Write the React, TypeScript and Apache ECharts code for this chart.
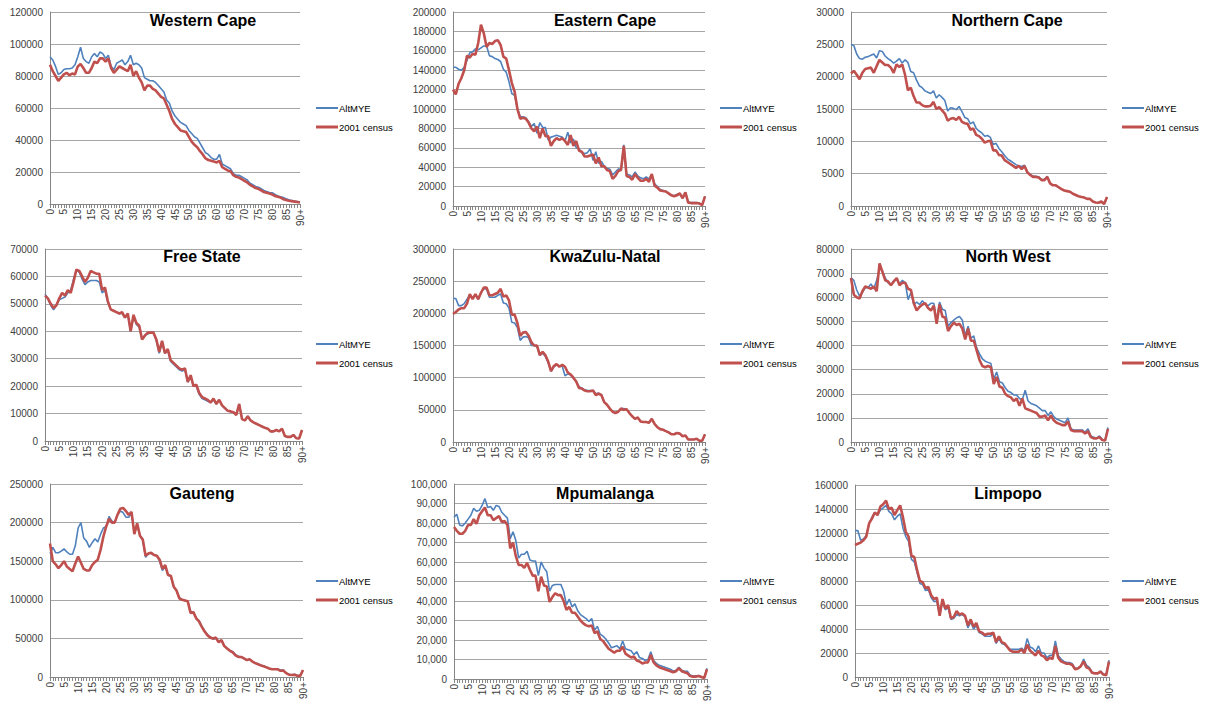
import { useEffect, useRef } from "react";
import * as echarts from "echarts";

// Single-year age groups 0..89 and the open-ended 90+ group
const ages: string[] = [...Array.from({ length: 90 }, (_, i) => String(i)), "90+"];

const seriesNames = ["AltMYE", "2001 census"];

const westernCapeAlt = [
  92000, 90000, 86000, 81000, 82000, 84000, 84500, 84500, 85000, 87000,
  92000, 98000, 91000, 89000, 88000, 92000, 94000, 92000, 95000, 94000,
  91000, 93000, 86000, 84000, 88000, 89000, 90000, 87000, 89000, 93000,
  87000, 88000, 87000, 85000, 79000, 78000, 77000, 77000, 76000, 74000,
  72000, 70000, 65000, 63000, 58000, 55000, 53000, 51000, 50000, 49000,
  46000, 44000, 42000, 41000, 38000, 35000, 32000, 31000, 29000, 28000,
  28000, 31000, 25000, 24000, 23000, 22000, 19000, 18000, 18000, 17000,
  16000, 15000, 13000, 12000, 11000, 10500, 9500, 8500, 7800, 7200,
  7000, 6000, 5000, 4500, 4000, 3200, 2600, 2200, 1800, 1500,
  1200,
];
const westernCapeCensus = [
  87000, 83000, 80000, 77000, 79000, 81000, 82000, 80500, 81500, 81000,
  86000, 87500, 85000, 82000, 82000, 85000, 89000, 88000, 91000, 91000,
  89000, 91000, 85000, 82000, 84000, 86000, 85000, 84000, 83000, 87000,
  80000, 83000, 79000, 76000, 71000, 74000, 74000, 72000, 71000, 69000,
  67000, 66000, 62000, 58000, 53000, 50000, 48000, 46000, 45500, 45000,
  42000, 39000, 37000, 35500, 33000, 31000, 28500, 27500, 27000, 26500,
  26000, 27000, 23000, 22000, 21000, 20500, 18000, 17000, 16500, 15500,
  14500, 13500, 12000, 11000, 10000, 9500, 8500, 7500, 7000, 6500,
  6000, 5000, 4500, 4000, 3000, 2500, 2000, 1800, 1500, 1200,
  900,
];

const easternCapeAlt = [
  143000, 143000, 141000, 140000, 143000, 150000, 158000, 159000, 162000, 161000,
  163000, 165000, 165000, 155000, 154000, 152000, 151000, 149000, 141000, 138000,
  128000, 116000, 114000, 101000, 92000, 92000, 91000, 87000, 82000, 85000,
  75000, 86000, 81000, 81000, 68000, 71000, 72000, 73000, 72000, 71000,
  67000, 76000, 65000, 69000, 60000, 59000, 55000, 54000, 55000, 59000,
  47000, 56000, 44000, 46000, 41000, 39000, 38000, 32000, 35000, 38000,
  38000, 63000, 33000, 32000, 30000, 35000, 31000, 29000, 28000, 30000,
  28000, 32000, 23000, 20000, 17000, 16000, 15000, 13000, 11000, 10500,
  12000, 13000, 8500, 14000, 4000, 3500, 3500, 3500, 3000, 1500,
  10000,
];
const easternCapeCensus = [
  120000, 115000, 126000, 132000, 140000, 155000, 153000, 157000, 156000, 168000,
  187000, 178000, 164000, 168000, 167000, 170000, 171000, 166000, 154000, 152000,
  140000, 127000, 118000, 100000, 90000, 91000, 90000, 86000, 80000, 77000,
  82000, 70000, 80000, 72000, 72000, 62000, 67000, 70000, 68000, 70000,
  67000, 63000, 73000, 62000, 67000, 57000, 56000, 51000, 51000, 52000,
  53000, 44000, 50000, 41000, 41000, 37000, 36000, 28000, 31000, 36000,
  37000, 62000, 31000, 30000, 27000, 33000, 29000, 26000, 26000, 28000,
  25000, 33000, 21000, 19000, 16000, 15500, 15000, 13000, 11000, 10000,
  11000, 13000, 8000, 14000, 3500, 3000, 3000, 3000, 2500, 1000,
  10000,
];

const northernCapeAlt = [
  25000, 24800, 23500, 22800, 22700, 23000, 23100, 23300, 23500, 22900,
  24000, 23900, 23200, 22800, 22500, 22100, 22400, 22800, 22100, 22600,
  22200, 20800, 20600, 19500, 18600, 18300, 17800, 17600, 17400, 17800,
  16700, 17200, 16800, 16300, 14700, 15200, 15100, 14900, 15400, 14600,
  13700, 13500, 12700, 13000, 12000, 11600, 11300, 10800, 10900, 10600,
  9500, 9700, 8900, 8400, 7800, 7300, 7000, 6700, 6400, 6200,
  6100, 6300, 5300, 4900, 4600, 4600, 4500, 4100, 4100, 4600,
  3500, 3200, 3200, 2900, 2600, 2400, 2300, 2200, 1900, 1700,
  1500, 1400, 1300, 1100, 1100, 700, 550, 500, 700, 300,
  1400,
];
const northernCapeCensus = [
  20500, 20900, 20300, 19600, 20600, 21200, 21300, 21400, 20600, 21600,
  22600, 22200, 21800, 21800, 21400, 20600, 21900, 21500, 21900, 20300,
  17900, 18300, 17000, 16000, 16000, 15600, 15400, 15400, 15500, 16100,
  15000, 15300, 14800, 14300, 13200, 13500, 13600, 13300, 13800, 13000,
  12800, 12700, 11800, 12000, 11000, 10800, 10400, 9800, 10000, 10100,
  8600, 8600, 7900, 7800, 7100, 6800, 6500, 6200, 5900, 6200,
  5700, 6200, 5200, 4800, 4500, 4500, 4400, 4000, 4000, 4500,
  3500, 3200, 3200, 2900, 2600, 2400, 2300, 2200, 1900, 1700,
  1500, 1400, 1300, 1100, 1100, 700, 550, 500, 700, 300,
  1400,
];

const freeStateAlt = [
  53500, 52000, 49500, 47800, 49500, 51500, 52000, 52500, 54000, 55000,
  59000, 62500, 61500, 59000, 57000, 58000, 58500, 58500, 58500, 58000,
  54000, 55000, 50500, 48000, 47500, 47000, 46500, 46500, 45000, 46000,
  40000, 45500, 42500, 41500, 37000, 38500, 39000, 39500, 39500, 36500,
  32000, 36000, 32000, 33000, 29000, 28000, 27000, 26000, 25500, 26000,
  21500, 23500, 20000, 20000, 17000, 15500, 15000, 14500, 14000, 15000,
  13500, 15000, 13000, 12000, 11000, 10800, 10500, 9500, 13500, 8000,
  7500, 9000, 7500, 6800, 6300, 5800, 5300, 4800, 4500, 3500,
  3500, 4000, 3500, 4500, 1800, 1500, 1500, 2200, 1000, 900,
  4000,
];
const freeStateCensus = [
  53000, 52000, 50000, 48500, 49500, 52000, 54000, 53000, 55000, 54000,
  58000, 62500, 62000, 60000, 58000, 59500, 62000, 61500, 61000, 61000,
  55000, 56000, 51000, 48000, 47500, 47000, 46500, 47000, 45000, 46500,
  40000, 46000, 43000, 42000, 37000, 38500, 39500, 39500, 39500, 37000,
  32500, 36500, 32000, 33500, 29500, 28500, 27500, 26500, 26000, 26500,
  21500, 24000, 20000, 20500, 17500, 16000, 15500, 15000, 14000, 15500,
  13500, 15000, 13000, 12000, 11000, 10800, 10500, 9500, 13500, 8000,
  7500, 9000, 7500, 6800, 6300, 5800, 5300, 4800, 4500, 3500,
  3500, 4000, 3500, 4500, 1800, 1500, 1500, 2200, 1000, 900,
  4000,
];

const kwaZuluNatalAlt = [
  223000, 223000, 212000, 212000, 215000, 222000, 228000, 224000, 228000, 222000,
  232000, 238000, 238000, 225000, 225000, 225000, 228000, 230000, 216000, 215000,
  208000, 186000, 185000, 178000, 158000, 163000, 164000, 162000, 150000, 150000,
  148000, 135000, 138000, 133000, 123000, 110000, 117000, 120000, 118000, 118000,
  103000, 106000, 104000, 99000, 94000, 86000, 84000, 81000, 80000, 80000,
  80000, 75000, 76000, 73000, 62000, 58000, 52000, 47000, 45000, 47000,
  52000, 52000, 51000, 45000, 40000, 36000, 38000, 32000, 31000, 31000,
  30000, 36000, 28000, 23000, 20000, 19000, 17000, 15000, 12000, 12000,
  14000, 13000, 9000, 10000, 4000, 4000, 4000, 5000, 2000, 2000,
  12000,
];
const kwaZuluNatalCensus = [
  199000, 202000, 206000, 208000, 208000, 215000, 230000, 222000, 230000, 222000,
  232000, 240000, 240000, 228000, 228000, 230000, 232000, 238000, 226000, 228000,
  220000, 198000, 198000, 185000, 165000, 170000, 171000, 165000, 155000, 150000,
  150000, 135000, 140000, 135000, 125000, 110000, 118000, 121000, 117000, 120000,
  117000, 108000, 105000, 100000, 94000, 84000, 83000, 80000, 79000, 79000,
  80000, 73000, 75000, 73000, 62000, 58000, 52000, 47000, 45000, 47000,
  52000, 50000, 51000, 45000, 40000, 36000, 38000, 32000, 31000, 31000,
  30000, 36000, 28000, 23000, 20000, 19000, 17000, 15000, 12000, 12000,
  14000, 13000, 9000, 10000, 4000, 4000, 4000, 5000, 2000, 2000,
  12000,
];

const northWestAlt = [
  68000, 67000, 63000, 60500, 62000, 64000, 64000, 65500, 63500, 67000,
  72000, 71000, 68000, 66000, 65000, 67000, 67500, 65500, 67000, 66000,
  59000, 62000, 57000, 58000, 57000, 58500, 57000, 56500, 57500, 57500,
  50000, 58000, 55000, 54500, 48000, 49500, 50500, 51500, 52000, 50500,
  44000, 48000, 43000, 44000, 39000, 36500, 34500, 33500, 33000, 32500,
  26000, 29000, 25000, 24500, 22500, 21000, 20500, 19500, 19500, 18000,
  17500, 21500, 17000, 16000, 15500, 15000, 14000, 13000, 13000, 11000,
  12500, 10500, 9500, 9000, 8500, 8000, 10000, 5500, 5000, 5000,
  5000, 5000, 4000, 5500, 2500, 2000, 1500, 2500, 1000, 900,
  6000,
];
const northWestCensus = [
  68000, 61000, 60000, 59500, 62500, 64500, 64000, 63500, 64500, 62500,
  74000, 70500, 67000, 66500, 65000, 66500, 68000, 65000, 66000, 66000,
  63500, 63000, 57500, 54500, 56000, 57000, 57500, 55500, 54500, 56500,
  49000, 57000, 52000, 51500, 46000, 48000, 49500, 48500, 49000, 47000,
  42500, 47000, 42000, 42000, 38000, 34000, 31500, 31000, 31500, 31000,
  24000, 27000, 23000, 22500, 20000, 19000, 18500, 17000, 18000, 15000,
  18000, 14000, 13500, 13000, 12500, 12000, 10500, 10500, 11000, 9000,
  11000, 9000, 8000, 7500, 7000, 7000, 8500, 5000, 4500, 4500,
  4500, 4500, 3500, 4500, 2000, 1500, 1500, 2000, 800, 600,
  5500,
];

const gautengAlt = [
  160000, 168000, 161000, 161000, 163000, 166000, 162000, 159000, 159000, 170000,
  193000, 200000, 180000, 176000, 168000, 174000, 179000, 175000, 185000, 193000,
  195000, 208000, 202000, 200000, 210000, 215000, 213000, 207000, 207000, 212000,
  188000, 197000, 183000, 177000, 155000, 160000, 160000, 158000, 157000, 150000,
  138000, 143000, 132000, 130000, 117000, 112000, 103000, 100000, 99000, 98000,
  85000, 84000, 76000, 73000, 66000, 60000, 55000, 52000, 49000, 50000,
  46000, 47000, 40000, 37000, 34000, 33000, 29000, 27000, 26000, 24000,
  22000, 23000, 20000, 18000, 17000, 15500, 14000, 13000, 11000, 10500,
  10500, 10500, 9000, 9000, 5000, 3500, 3000, 3500, 2000, 2000,
  9000,
];
const gautengCensus = [
  173000, 150000, 146000, 141000, 145000, 150000, 143000, 140000, 137000, 147000,
  156000, 148000, 140000, 138000, 138000, 145000, 149000, 152000, 165000, 182000,
  195000, 205000, 200000, 200000, 210000, 218000, 219000, 215000, 210000, 214000,
  185000, 199000, 183000, 178000, 157000, 160000, 161000, 158000, 157000, 152000,
  140000, 145000, 132000, 131000, 117000, 112000, 102000, 100000, 99000, 98000,
  83000, 84000, 76000, 72000, 65000, 59000, 54000, 51000, 50000, 51000,
  45000, 48000, 40000, 37000, 34000, 32000, 28000, 26000, 26000, 24000,
  22000, 23000, 20000, 18000, 16500, 15000, 14000, 12500, 11000, 10000,
  10000, 10000, 8000, 8500, 5000, 3000, 2500, 3000, 1500, 1500,
  9000,
];

const mpumalangaAlt = [
  83000, 84500, 79000, 78500, 80000, 82000, 84000, 87500, 86000, 86500,
  89000, 92500, 88000, 88500, 86500, 89000, 88500, 85500, 84000, 82500,
  72000, 75500, 71000, 62000, 64000, 64000, 65500, 61000, 60500, 60500,
  53000, 60000, 57000, 55000, 45000, 48000, 48500, 48500, 48500, 45000,
  38000, 41000, 37000, 38500, 35000, 33000, 32000, 31000, 29500, 31000,
  25000, 27000, 23000, 22000, 20500, 18500, 16000, 16500, 17000, 15500,
  19500, 15500, 15000, 14500, 12500, 14000, 11000, 10500, 9500, 10000,
  14000, 9500, 8000, 7000, 6500, 6000, 5500, 5000, 4000, 4500,
  6000, 4500, 4000, 4000, 2000, 1500, 1500, 1800, 1200, 800,
  5500,
];
const mpumalangaCensus = [
  78000, 76000, 74500, 74500, 76000, 79000, 79000, 82000, 79500, 84000,
  86000, 88000, 84000, 84000, 81500, 82500, 83500, 80500, 81000, 79000,
  67000, 70000, 63000, 58500, 58500, 57000, 59500, 56000, 53000, 53000,
  45000, 52500, 48000, 47500, 39500, 42000, 44000, 43000, 43000, 40000,
  35500, 37000, 34000, 34000, 32000, 30000, 28500, 27500, 27000, 27500,
  23500, 24500, 20500, 19500, 17500, 15500, 14500, 13500, 14500, 14500,
  16500, 13000, 12000, 11000, 11500, 9500, 9000, 8000, 8500, 8500,
  12500, 8500, 7000, 6000, 5500, 5000, 4500, 4000, 3500, 4000,
  5500, 4000, 3500, 3000, 1500, 1200, 1200, 1500, 1000, 500,
  5000,
];

const limpopoAlt = [
  122000, 122000, 114000, 115000, 118000, 128000, 133000, 137000, 135000, 139000,
  141000, 143000, 138000, 136000, 131000, 134000, 136000, 124000, 117000, 113000,
  98000, 96000, 87000, 78000, 77000, 72000, 73000, 66000, 63000, 63000,
  52000, 63000, 56000, 58000, 48000, 49000, 52000, 51000, 52000, 50000,
  41000, 46000, 40000, 43000, 37000, 36000, 34000, 34000, 34000, 36000,
  28000, 32000, 28000, 27000, 25000, 23000, 23000, 23000, 23000, 24000,
  22000, 32000, 25000, 24000, 21000, 26000, 20000, 20000, 16000, 18000,
  18000, 30000, 18000, 15000, 13000, 12000, 12000, 11000, 7000, 7500,
  9000, 15000, 10000, 8000, 4000, 3500, 3000, 5000, 2500, 2000,
  14000,
];
const limpopoCensus = [
  110000, 111000, 112000, 114000, 117000, 128000, 132000, 137000, 135000, 142000,
  144000, 147000, 140000, 141000, 135000, 139000, 143000, 133000, 121000, 117000,
  101000, 100000, 89000, 80000, 79000, 74000, 75000, 68000, 65000, 66000,
  51000, 65000, 57000, 60000, 49000, 50000, 55000, 52000, 53000, 51000,
  43000, 48000, 42000, 45000, 38000, 37000, 35000, 36000, 36000, 37000,
  29000, 34000, 29000, 28000, 25000, 22000, 21000, 21000, 21000, 23000,
  20000, 27000, 22000, 20000, 18000, 22000, 18000, 17000, 14000, 16000,
  15000, 26000, 16000, 13000, 12000, 11000, 11000, 10000, 6500, 7000,
  9000, 13000, 8000, 7000, 3500, 3000, 3000, 4500, 2000, 1500,
  13000,
];

// Province panels: titles, the two series and the value-axis range
const provinces = [
  { title: "Western Cape", alt: westernCapeAlt, census: westernCapeCensus, max: 120000, step: 20000, commas: false },
  { title: "Eastern Cape", alt: easternCapeAlt, census: easternCapeCensus, max: 200000, step: 20000, commas: false },
  { title: "Northern Cape", alt: northernCapeAlt, census: northernCapeCensus, max: 30000, step: 5000, commas: false },
  { title: "Free State", alt: freeStateAlt, census: freeStateCensus, max: 70000, step: 10000, commas: false },
  { title: "KwaZulu-Natal", alt: kwaZuluNatalAlt, census: kwaZuluNatalCensus, max: 300000, step: 50000, commas: false },
  { title: "North West", alt: northWestAlt, census: northWestCensus, max: 80000, step: 10000, commas: false },
  { title: "Gauteng", alt: gautengAlt, census: gautengCensus, max: 250000, step: 50000, commas: false },
  { title: "Mpumalanga", alt: mpumalangaAlt, census: mpumalangaCensus, max: 100000, step: 10000, commas: true },
  { title: "Limpopo", alt: limpopoAlt, census: limpopoCensus, max: 160000, step: 20000, commas: false },
];

// Pixel layout of each panel: plot box, title centre, legend corner
const layout = [
  { left: 50, top: 12, width: 250, height: 192, tx: 203, ty: 12, lx: 316, ly: 103 },
  { left: 453, top: 12, width: 252, height: 194, tx: 605, ty: 12, lx: 720, ly: 103 },
  { left: 851, top: 12, width: 256, height: 194, tx: 1007, ty: 12, lx: 1122, ly: 103 },
  { left: 45, top: 249, width: 257, height: 192, tx: 202, ty: 248, lx: 316, ly: 339 },
  { left: 453, top: 249, width: 252, height: 193, tx: 605, ty: 248, lx: 720, ly: 339 },
  { left: 851, top: 249, width: 257, height: 193, tx: 1008, ty: 248, lx: 1122, ly: 339 },
  { left: 50, top: 484, width: 253, height: 193, tx: 202, ty: 485, lx: 316, ly: 576 },
  { left: 454, top: 484, width: 253, height: 195, tx: 605, ty: 485, lx: 720, ly: 576 },
  { left: 855, top: 485, width: 254, height: 192, tx: 1008, ty: 485, lx: 1122, ly: 576 },
];

const BLUE = "#4F81BD";
const RED = "#C0504D";
const AXIS = "#868686";
const GRID = "#A6A6A6";
const LABEL = "#404040";
const FONT = '"Liberation Sans", Arial, sans-serif';

function buildOption() {
  const grid = layout.map((p) => ({
    left: p.left,
    top: p.top,
    width: p.width,
    height: p.height,
    containLabel: false,
  }));

  const xAxis = provinces.map((_, i) => ({
    type: "category" as const,
    gridIndex: i,
    data: ages,
    boundaryGap: false,
    axisLine: { lineStyle: { color: AXIS, width: 1 } },
    axisTick: { show: true, interval: 0, length: 4, lineStyle: { color: AXIS } },
    axisLabel: {
      interval: 4,
      rotate: 90,
      fontSize: 10,
      fontFamily: FONT,
      color: LABEL,
      margin: 5,
    },
    splitLine: { show: false },
  }));

  const yAxis = provinces.map((p, i) => ({
    type: "value" as const,
    gridIndex: i,
    min: 0,
    max: p.max,
    interval: p.step,
    axisLine: { show: true, lineStyle: { color: AXIS, width: 1 } },
    axisTick: { show: false },
    axisLabel: {
      fontSize: 10,
      fontFamily: FONT,
      color: LABEL,
      margin: 7,
      formatter: (v: number) =>
        p.commas ? v.toLocaleString("en-US") : String(v),
    },
    splitLine: { show: true, lineStyle: { color: GRID, width: 1 } },
  }));

  const series: any[] = [];
  provinces.forEach((p, i) => {
    series.push({
      name: seriesNames[0],
      type: "line",
      xAxisIndex: i,
      yAxisIndex: i,
      data: p.alt,
      symbol: "none",
      lineStyle: { color: BLUE, width: 1.6 },
      itemStyle: { color: BLUE },
      z: 2,
    });
    series.push({
      name: seriesNames[1],
      type: "line",
      xAxisIndex: i,
      yAxisIndex: i,
      data: p.census,
      symbol: "none",
      lineStyle: { color: RED, width: 2.6 },
      itemStyle: { color: RED },
      z: 3,
    });
  });

  const title = provinces.map((p, i) => ({
    text: p.title,
    left: layout[i].tx,
    top: layout[i].ty,
    textAlign: "center" as const,
    padding: 0,
    textStyle: {
      fontFamily: FONT,
      fontWeight: "bold" as const,
      fontSize: 16,
      color: "#000000",
    },
  }));

  // Legend keys are plain line segments, thin blue and thicker red
  const legend = layout.map((l) => ({
    data: [
      { name: seriesNames[0], icon: "path://M0,1 L22,1 L22,3 L0,3 Z" },
      { name: seriesNames[1], icon: "path://M0,0 L22,0 L22,3 L0,3 Z" },
    ],
    orient: "vertical" as const,
    left: l.lx,
    top: l.ly,
    itemWidth: 22,
    itemHeight: 3,
    itemGap: 9,
    padding: 0,
    selectedMode: false,
    textStyle: { fontFamily: FONT, fontSize: 9.5, color: "#000000", padding: [0, 0, 0, -4] },
  }));

  return {
    animation: false,
    backgroundColor: "#ffffff",
    title,
    legend,
    grid,
    xAxis,
    yAxis,
    series,
  };
}

export default function App() {
  const ref = useRef<HTMLDivElement>(null);

  useEffect(() => {
    if (!ref.current) return;
    const chart = echarts.init(ref.current, undefined, { renderer: "svg" });
    chart.setOption(buildOption() as any);
    return () => chart.dispose();
  }, []);

  return (
    <div
      ref={ref}
      style={{ position: "absolute", left: 0, top: 0, width: 1208, height: 704, background: "#fff" }}
    />
  );
}
